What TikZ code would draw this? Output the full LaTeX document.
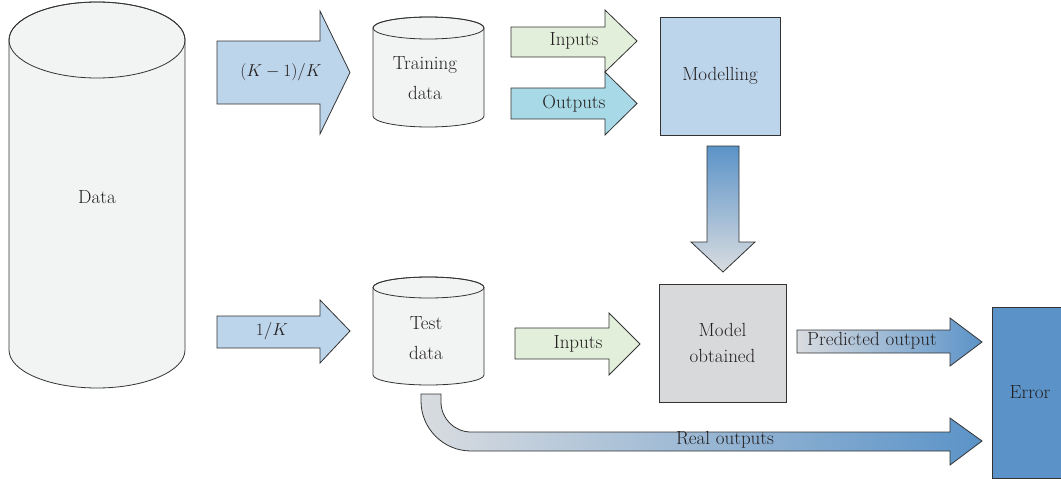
\documentclass[tikz,border=0pt]{standalone}
\usepackage{tikz}
\usetikzlibrary{calc}
\definecolor{kblue}{HTML}{BDD5EB}
\definecolor{kgreen}{HTML}{E2EFDA}
\definecolor{kcyan}{HTML}{A8D9E6}
\definecolor{kgrey}{HTML}{D8D9DB}
\definecolor{kdeep}{HTML}{5B93C8}
\definecolor{kpale}{HTML}{D9DCE0}
\definecolor{kcyl}{HTML}{F2F4F3}
\definecolor{kline}{HTML}{333333}
\definecolor{ktext}{HTML}{231F20}
\tikzset{
    outline/.style={draw=kline,line width=0.8pt,line join=miter},
    cyl/.style={outline,fill=kcyl},
    fatarrow/.style={outline},
    lbl/.style={text=ktext,font=\fontsize{19}{26}\selectfont,align=center,inner sep=0pt},
    twoline/.style={lbl,font=\fontsize{19}{30}\selectfont},
    box/.style={lbl,outline,minimum width=120pt,minimum height=118pt}
}
\begin{document}
\begin{tikzpicture}[x=1pt,y=-1pt]
\useasboundingbox (0,0) rectangle (1061,479);

\draw[cyl](9,40)--(9,350) arc[start angle=180,end angle=360,x radius=88pt,y radius=38pt]
    --(185,40) arc[start angle=0,end angle=180,x radius=88pt,y radius=38pt]--cycle;
\draw[outline](97,40) ellipse[x radius=88pt,y radius=38pt];
\node[lbl] (data) at (97,197){Data};

\draw[cyl](373,28)--(373,116) arc[start angle=180,end angle=360,x radius=55.5pt,y radius=11pt]
    --(484,28) arc[start angle=0,end angle=180,x radius=55.5pt,y radius=11pt]--cycle;
\draw[outline](428.5,28) ellipse[x radius=55.5pt,y radius=11pt];
\node[twoline] (train) at (425,78){Training\\data};

\draw[cyl](373,287.5)--(373,375) arc[start angle=180,end angle=360,x radius=55.5pt,y radius=10pt]
    --(484,287.5) arc[start angle=0,end angle=180,x radius=55.5pt,y radius=10.5pt]--cycle;
\draw[outline](428.5,287.5) ellipse[x radius=55.5pt,y radius=10.5pt];
\node[twoline] (test) at (426,338){Test\\data};

\draw[fatarrow,fill=kblue](217,41)--(320,41)--(320,11)--(350,72.5)--(320,134)--(320,104)--(217,104)--cycle;
\node[lbl] (kfrac) at (281,72.5){$(K-1)/K$};
\draw[fatarrow,fill=kblue](217,316)--(320,316)--(320,300)--(350,331)--(320,363)--(320,348)--(217,348)--cycle;
\node[lbl] (kone) at (272,331){$1/K$};

\draw[fatarrow,fill=kgreen](511,27)--(605,27)--(605,10)--(637,41)--(605,72)--(605,57)--(511,57)--cycle;
\node[lbl] (inTop) at (574,41){Inputs};
\draw[fatarrow,fill=kcyan](511,88)--(605,88)--(605,72)--(637,103.5)--(605,135)--(605,119)--(511,119)--cycle;
\node[lbl] (outTop) at (574,103.5){Outputs};
\draw[fatarrow,fill=kgreen](515,328)--(609,328)--(609,313)--(640,344)--(609,375)--(609,359)--(515,359)--cycle;
\node[lbl] (inBot) at (578,344){Inputs};

\node[box,fill=kblue] (model) at (720,76){Modelling};
\node[box,fill=kgrey,minimum width=127pt] (obtained) at (722.5,343){Model\\obtained};
\node[box,fill=kdeep,minimum width=76pt,minimum height=171pt] (error) at (1030,392.5){Error};

\draw[fatarrow,top color=kdeep,bottom color=kpale](707,146)--(739,146)--(739,242)--(755,242)--(723,272)--(691,242)--(707,242)--cycle;

\draw[fatarrow,left color=kpale,right color=kdeep](797,330)--(950,330)--(950,318)--(982,342)--(950,366)--(950,353)--(797,353)--cycle;
\node[lbl] (predicted) at (872,341){Predicted output};

\draw[fatarrow,left color=kpale,right color=kdeep](421,394)--(421,401) arc[start angle=180,end angle=270,radius=50pt]
    --(950,451)--(950,465)--(982,441)--(950,418)--(950,432)--(471,432)
    arc[start angle=270,end angle=180,radius=30pt]--(441,394)--cycle;
\node[lbl] (real) at (725,440){Real outputs};
\end{tikzpicture}
\end{document}
